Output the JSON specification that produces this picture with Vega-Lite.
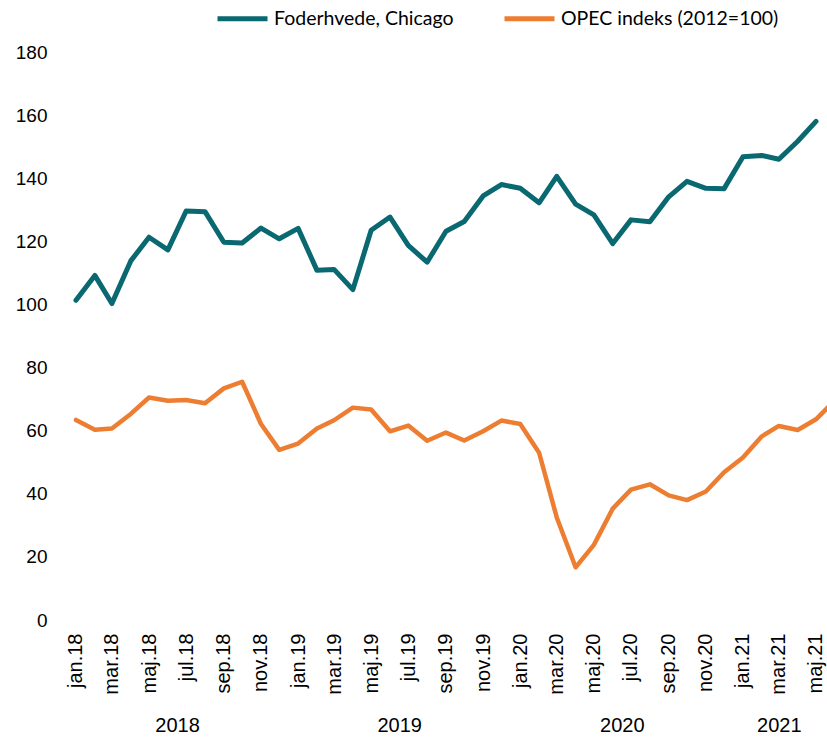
{
  "$schema": "https://vega.github.io/schema/vega-lite/v6.json",
  "autosize": {"type": "none"},
  "padding": {"left": 66, "top": 52, "right": 0, "bottom": 120},
  "width": 761,
  "height": 568,
  "background": "white",
  "config": {
    "view": {"stroke": null},
    "axis": {"labelColor": "#000", "labelFont": "Liberation Sans", "grid": false, "domain": false, "ticks": false}
  },
  "data": {
    "values": [
      {"date": "2018-01-01", "series": "Foderhvede, Chicago", "value": 101.3},
      {"date": "2018-02-01", "series": "Foderhvede, Chicago", "value": 109.2},
      {"date": "2018-03-01", "series": "Foderhvede, Chicago", "value": 100.3},
      {"date": "2018-04-01", "series": "Foderhvede, Chicago", "value": 113.8},
      {"date": "2018-05-01", "series": "Foderhvede, Chicago", "value": 121.3},
      {"date": "2018-06-01", "series": "Foderhvede, Chicago", "value": 117.3},
      {"date": "2018-07-01", "series": "Foderhvede, Chicago", "value": 129.6},
      {"date": "2018-08-01", "series": "Foderhvede, Chicago", "value": 129.4},
      {"date": "2018-09-01", "series": "Foderhvede, Chicago", "value": 119.7},
      {"date": "2018-10-01", "series": "Foderhvede, Chicago", "value": 119.5},
      {"date": "2018-11-01", "series": "Foderhvede, Chicago", "value": 124.2},
      {"date": "2018-12-01", "series": "Foderhvede, Chicago", "value": 120.8},
      {"date": "2019-01-01", "series": "Foderhvede, Chicago", "value": 124.1},
      {"date": "2019-02-01", "series": "Foderhvede, Chicago", "value": 110.8},
      {"date": "2019-03-01", "series": "Foderhvede, Chicago", "value": 111.1},
      {"date": "2019-04-01", "series": "Foderhvede, Chicago", "value": 104.7},
      {"date": "2019-05-01", "series": "Foderhvede, Chicago", "value": 123.5},
      {"date": "2019-06-01", "series": "Foderhvede, Chicago", "value": 127.7},
      {"date": "2019-07-01", "series": "Foderhvede, Chicago", "value": 118.7},
      {"date": "2019-08-01", "series": "Foderhvede, Chicago", "value": 113.4},
      {"date": "2019-09-01", "series": "Foderhvede, Chicago", "value": 123.2},
      {"date": "2019-10-01", "series": "Foderhvede, Chicago", "value": 126.3},
      {"date": "2019-11-01", "series": "Foderhvede, Chicago", "value": 134.4},
      {"date": "2019-12-01", "series": "Foderhvede, Chicago", "value": 138.0},
      {"date": "2020-01-01", "series": "Foderhvede, Chicago", "value": 136.8},
      {"date": "2020-02-01", "series": "Foderhvede, Chicago", "value": 132.2},
      {"date": "2020-03-01", "series": "Foderhvede, Chicago", "value": 140.6},
      {"date": "2020-04-01", "series": "Foderhvede, Chicago", "value": 131.8},
      {"date": "2020-05-01", "series": "Foderhvede, Chicago", "value": 128.4},
      {"date": "2020-06-01", "series": "Foderhvede, Chicago", "value": 119.3},
      {"date": "2020-07-01", "series": "Foderhvede, Chicago", "value": 126.8},
      {"date": "2020-08-01", "series": "Foderhvede, Chicago", "value": 126.2},
      {"date": "2020-09-01", "series": "Foderhvede, Chicago", "value": 134.1},
      {"date": "2020-10-01", "series": "Foderhvede, Chicago", "value": 139.0},
      {"date": "2020-11-01", "series": "Foderhvede, Chicago", "value": 136.8},
      {"date": "2020-12-01", "series": "Foderhvede, Chicago", "value": 136.7},
      {"date": "2021-01-01", "series": "Foderhvede, Chicago", "value": 146.8},
      {"date": "2021-02-01", "series": "Foderhvede, Chicago", "value": 147.2},
      {"date": "2021-03-01", "series": "Foderhvede, Chicago", "value": 146.0},
      {"date": "2021-04-01", "series": "Foderhvede, Chicago", "value": 151.7},
      {"date": "2021-05-01", "series": "Foderhvede, Chicago", "value": 158.0},
      {"date": "2018-01-01", "series": "OPEC indeks (2012=100)", "value": 63.4},
      {"date": "2018-02-01", "series": "OPEC indeks (2012=100)", "value": 60.3},
      {"date": "2018-03-01", "series": "OPEC indeks (2012=100)", "value": 60.7},
      {"date": "2018-04-01", "series": "OPEC indeks (2012=100)", "value": 65.3},
      {"date": "2018-05-01", "series": "OPEC indeks (2012=100)", "value": 70.5},
      {"date": "2018-06-01", "series": "OPEC indeks (2012=100)", "value": 69.5},
      {"date": "2018-07-01", "series": "OPEC indeks (2012=100)", "value": 69.7},
      {"date": "2018-08-01", "series": "OPEC indeks (2012=100)", "value": 68.7},
      {"date": "2018-09-01", "series": "OPEC indeks (2012=100)", "value": 73.4},
      {"date": "2018-10-01", "series": "OPEC indeks (2012=100)", "value": 75.5},
      {"date": "2018-11-01", "series": "OPEC indeks (2012=100)", "value": 62.1},
      {"date": "2018-12-01", "series": "OPEC indeks (2012=100)", "value": 53.9},
      {"date": "2019-01-01", "series": "OPEC indeks (2012=100)", "value": 55.9},
      {"date": "2019-02-01", "series": "OPEC indeks (2012=100)", "value": 60.7},
      {"date": "2019-03-01", "series": "OPEC indeks (2012=100)", "value": 63.3},
      {"date": "2019-04-01", "series": "OPEC indeks (2012=100)", "value": 67.3},
      {"date": "2019-05-01", "series": "OPEC indeks (2012=100)", "value": 66.7},
      {"date": "2019-06-01", "series": "OPEC indeks (2012=100)", "value": 59.8},
      {"date": "2019-07-01", "series": "OPEC indeks (2012=100)", "value": 61.6},
      {"date": "2019-08-01", "series": "OPEC indeks (2012=100)", "value": 56.8},
      {"date": "2019-09-01", "series": "OPEC indeks (2012=100)", "value": 59.4},
      {"date": "2019-10-01", "series": "OPEC indeks (2012=100)", "value": 56.9},
      {"date": "2019-11-01", "series": "OPEC indeks (2012=100)", "value": 59.8},
      {"date": "2019-12-01", "series": "OPEC indeks (2012=100)", "value": 63.2},
      {"date": "2020-01-01", "series": "OPEC indeks (2012=100)", "value": 62.1},
      {"date": "2020-02-01", "series": "OPEC indeks (2012=100)", "value": 53.0},
      {"date": "2020-03-01", "series": "OPEC indeks (2012=100)", "value": 32.5},
      {"date": "2020-04-01", "series": "OPEC indeks (2012=100)", "value": 16.7},
      {"date": "2020-05-01", "series": "OPEC indeks (2012=100)", "value": 23.8},
      {"date": "2020-06-01", "series": "OPEC indeks (2012=100)", "value": 35.3},
      {"date": "2020-07-01", "series": "OPEC indeks (2012=100)", "value": 41.3},
      {"date": "2020-08-01", "series": "OPEC indeks (2012=100)", "value": 43.0},
      {"date": "2020-09-01", "series": "OPEC indeks (2012=100)", "value": 39.5},
      {"date": "2020-10-01", "series": "OPEC indeks (2012=100)", "value": 38.0},
      {"date": "2020-11-01", "series": "OPEC indeks (2012=100)", "value": 40.7},
      {"date": "2020-12-01", "series": "OPEC indeks (2012=100)", "value": 46.8},
      {"date": "2021-01-01", "series": "OPEC indeks (2012=100)", "value": 51.5},
      {"date": "2021-02-01", "series": "OPEC indeks (2012=100)", "value": 58.2},
      {"date": "2021-03-01", "series": "OPEC indeks (2012=100)", "value": 61.5},
      {"date": "2021-04-01", "series": "OPEC indeks (2012=100)", "value": 60.2},
      {"date": "2021-05-01", "series": "OPEC indeks (2012=100)", "value": 63.6},
      {"date": "2021-06-01", "series": "OPEC indeks (2012=100)", "value": 69.6}
    ]
  },
  "layer": [
    {
      "transform": [{"filter": "datum.series == 'Foderhvede, Chicago'"}],
      "mark": {"type": "line", "strokeWidth": 5, "strokeCap": "round", "strokeJoin": "round", "clip": true},
      "encoding": {
        "x": {
          "field": "date", "type": "temporal",
          "scale": {"type": "utc", "domain": [{"year": 2017, "month": 12, "date": 15, "hours": 14, "utc": true}, {"year": 2021, "month": 5, "date": 19, "hours": 2, "utc": true}]},
          "axis": {
            "title": null, "orient": "bottom",
            "tickCount": {"interval": "month", "step": 2},
            "labelAngle": -90, "labelFontSize": 20, "labelPadding": 13,
            "labelOverlap": false, "labelFlush": false, "labelBound": false,
            "labelExpr": "['jan','feb','mar','apr','maj','jun','jul','aug','sep','okt','nov','dec'][utcmonth(datum.value)] + '.' + utcFormat(datum.value, '%y')"
          }
        },
        "y": {
          "field": "value", "type": "quantitative",
          "scale": {"domain": [0, 180], "nice": false},
          "axis": {"title": null, "values": [0, 20, 40, 60, 80, 100, 120, 140, 160, 180], "labelFontSize": 19, "labelPadding": 19}
        },
        "color": {
          "field": "series", "type": "nominal",
          "scale": {"domain": ["Foderhvede, Chicago", "OPEC indeks (2012=100)"], "range": ["#0a6871", "#ed7d31"]},
          "legend": {
            "title": null, "orient": "none", "direction": "horizontal",
            "legendX": 149, "legendY": -61, "padding": 0,
            "symbolType": "stroke", "symbolSize": 2500, "symbolStrokeWidth": 5,
            "labelFont": "Lato", "labelFontSize": 19.5, "labelColor": "#000", "labelOffset": 4,
            "columnPadding": 40, "labelLimit": 400
          }
        }
      }
    },
    {
      "transform": [{"filter": "datum.series == 'OPEC indeks (2012=100)'"}],
      "mark": {"type": "line", "strokeWidth": 4.5, "strokeCap": "round", "strokeJoin": "round", "clip": true},
      "encoding": {
        "x": {
          "field": "date", "type": "temporal",
          "axis": {
            "title": null, "orient": "bottom",
            "values": [
              {"year": 2018, "month": 6, "date": 16, "utc": true},
              {"year": 2019, "month": 6, "date": 16, "utc": true},
              {"year": 2020, "month": 6, "date": 16, "utc": true},
              {"year": 2021, "month": 3, "date": 1, "utc": true}
            ],
            "labelExpr": "utcFormat(datum.value, '%Y')",
            "labelFontSize": 20, "labelPadding": 95, "labelBaseline": "top",
            "labelOverlap": false, "labelFlush": false, "labelBound": false
          }
        },
        "y": {
          "field": "value", "type": "quantitative",
          "axis": {"title": null, "values": [0, 20, 40, 60, 80, 100, 120, 140, 160, 180], "labelFontSize": 19, "labelPadding": 19}
        },
        "color": {"field": "series", "type": "nominal"}
      }
    }
  ],
  "resolve": {"axis": {"x": "independent"}}
}
